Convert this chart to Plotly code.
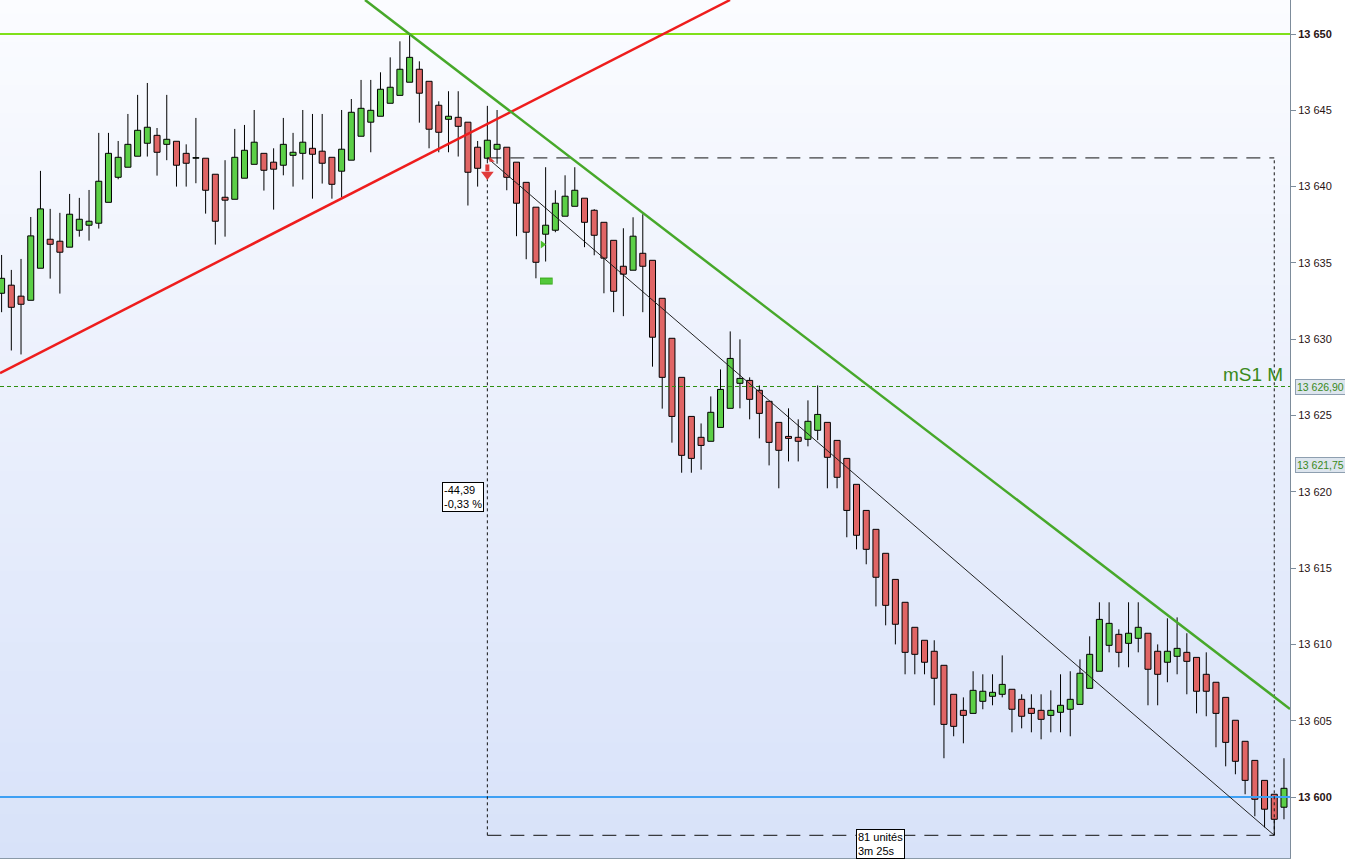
import plotly.graph_objects as go

# ---------------- data ----------------
opens = [13633.01, 13633.54, 13632.82, 13632.55, 13634.65, 13636.55, 13636.42, 13636.03, 13637.14, 13637.47,
         13637.60, 13638.97, 13640.61, 13641.27, 13641.99, 13642.84, 13643.36, 13642.77, 13642.97, 13642.18,
         13641.86, 13641.86, 13640.81, 13639.30, 13639.17, 13640.55, 13641.46, 13642.18, 13641.60, 13641.40,
         13642.05, 13642.18, 13642.51, 13642.32, 13641.92, 13641.01, 13641.73, 13643.30, 13644.22, 13644.61,
         13645.46, 13645.98, 13646.84, 13647.69, 13646.90, 13645.33, 13644.41, 13644.54, 13644.22, 13642.58,
         13641.86, 13642.45, 13642.58, 13641.60, 13640.28, 13638.65, 13636.88, 13637.14, 13638.06, 13638.71,
         13639.24, 13638.45, 13637.66, 13636.48, 13634.78, 13634.52, 13635.63, 13635.17, 13632.68, 13630.06,
         13627.50, 13624.94, 13623.57, 13623.31, 13624.22, 13625.47, 13627.11, 13627.30, 13626.65, 13625.93,
         13624.55, 13623.63, 13623.57, 13623.44, 13624.03, 13624.55, 13623.37, 13622.19, 13620.49, 13618.78,
         13617.54, 13615.97, 13614.26, 13612.76, 13611.12, 13610.27, 13609.55, 13608.63, 13606.73, 13605.68,
         13605.48, 13606.27, 13606.60, 13606.73, 13607.06, 13606.40, 13605.81, 13605.68, 13605.35, 13605.55,
         13605.75, 13606.07, 13607.12, 13608.24, 13609.94, 13610.66, 13610.07, 13610.40, 13610.73, 13609.55,
         13608.83, 13609.22, 13609.48, 13609.15, 13608.04, 13607.52, 13606.53, 13605.03, 13603.65, 13602.40,
         13601.09, 13600.18, 13599.33]
highs = [13635.52, 13634.54, 13635.26, 13638.01, 13641.03, 13638.54, 13638.28, 13639.52, 13639.26, 13639.78,
         13643.52, 13643.52, 13642.99, 13644.76, 13646.01, 13646.79, 13643.84, 13646.01, 13642.97, 13642.77,
         13644.50, 13641.86, 13640.81, 13641.73, 13643.78, 13644.04, 13645.02, 13642.18, 13642.51, 13644.50,
         13643.52, 13645.02, 13644.76, 13644.76, 13641.92, 13645.02, 13645.74, 13646.99, 13646.99, 13647.49,
         13648.47, 13649.52, 13650.00, 13648.21, 13646.90, 13645.59, 13646.25, 13646.25, 13644.22, 13642.99,
         13645.29, 13645.02, 13642.58, 13641.60, 13640.28, 13638.65, 13641.27, 13639.76, 13640.74, 13641.27,
         13639.24, 13638.52, 13637.66, 13636.48, 13637.27, 13637.99, 13638.19, 13635.17, 13632.68, 13630.06,
         13627.50, 13624.94, 13624.48, 13626.25, 13628.02, 13630.51, 13629.99, 13627.50, 13626.97, 13625.93,
         13624.55, 13625.47, 13624.75, 13625.99, 13626.97, 13624.55, 13623.37, 13622.19, 13620.49, 13618.78,
         13617.54, 13615.97, 13614.26, 13612.76, 13611.12, 13610.27, 13610.27, 13608.63, 13606.73, 13606.53,
         13608.24, 13608.04, 13608.04, 13609.28, 13607.06, 13606.73, 13606.73, 13606.73, 13606.99, 13608.04,
         13608.24, 13609.02, 13610.53, 13612.76, 13612.76, 13610.99, 13612.76, 13612.76, 13610.73, 13610.00,
         13611.71, 13611.77, 13610.73, 13609.15, 13609.48, 13607.52, 13606.53, 13605.03, 13603.65, 13602.40,
         13601.09, 13600.18, 13602.54]
lows = [13631.77, 13629.26, 13629.00, 13632.55, 13634.65, 13633.97, 13632.99, 13636.03, 13636.72, 13636.46,
        13637.25, 13638.97, 13640.48, 13641.27, 13641.99, 13641.97, 13640.72, 13641.73, 13640.00, 13640.00,
        13640.22, 13638.23, 13636.20, 13636.72, 13639.17, 13640.55, 13641.46, 13639.74, 13638.49, 13640.74,
        13640.00, 13640.46, 13639.21, 13640.20, 13639.21, 13639.30, 13641.73, 13643.30, 13642.25, 13644.61,
        13645.46, 13645.98, 13646.84, 13644.19, 13642.51, 13642.25, 13642.25, 13641.97, 13638.76, 13640.00,
        13641.70, 13641.50, 13639.76, 13636.75, 13635.24, 13633.99, 13635.09, 13637.01, 13638.06, 13638.71,
        13636.03, 13635.50, 13633.01, 13631.77, 13631.51, 13634.52, 13631.77, 13628.20, 13625.45, 13623.22,
        13621.25, 13621.25, 13621.45, 13623.31, 13624.22, 13625.47, 13625.47, 13624.75, 13623.50, 13621.73,
        13620.23, 13621.99, 13621.99, 13622.98, 13623.39, 13620.23, 13620.23, 13617.02, 13616.23, 13615.25,
        13612.49, 13611.25, 13610.00, 13608.04, 13608.04, 13608.04, 13606.01, 13602.54, 13603.98, 13603.52,
        13605.48, 13605.75, 13606.01, 13606.53, 13604.24, 13604.50, 13604.24, 13603.78, 13604.24, 13604.24,
        13603.98, 13606.07, 13607.12, 13608.24, 13609.48, 13608.50, 13608.50, 13609.48, 13606.01, 13606.01,
        13607.52, 13608.04, 13606.73, 13605.48, 13605.29, 13603.26, 13602.01, 13601.49, 13600.18, 13598.74,
        13598.01, 13597.49, 13598.54]
closes = [13633.99, 13632.09, 13632.29, 13636.77, 13638.54, 13636.22, 13635.70, 13638.19, 13637.86, 13637.73,
          13640.35, 13642.18, 13641.92, 13642.77, 13643.69, 13643.89, 13642.25, 13643.10, 13641.40, 13641.53,
          13641.86, 13639.76, 13637.73, 13639.11, 13641.92, 13642.38, 13642.91, 13641.07, 13641.14, 13642.77,
          13642.25, 13642.91, 13642.12, 13641.53, 13640.15, 13642.45, 13644.87, 13645.13, 13645.00, 13646.38,
          13646.51, 13647.69, 13648.47, 13646.12, 13643.76, 13643.56, 13644.61, 13643.95, 13640.94, 13641.20,
          13643.04, 13642.77, 13640.61, 13638.91, 13637.01, 13635.04, 13637.47, 13638.91, 13639.37, 13639.76,
          13637.66, 13636.81, 13635.31, 13633.14, 13634.26, 13636.75, 13634.78, 13630.13, 13627.50, 13624.94,
          13622.39, 13622.19, 13623.04, 13625.21, 13626.71, 13628.74, 13627.43, 13626.06, 13625.14, 13623.24,
          13622.72, 13623.50, 13623.31, 13624.62, 13625.07, 13622.26, 13620.95, 13618.78, 13617.15, 13616.23,
          13614.40, 13612.56, 13611.32, 13609.48, 13609.35, 13608.83, 13607.78, 13604.76, 13604.63, 13605.35,
          13606.99, 13606.93, 13606.86, 13607.38, 13605.75, 13605.29, 13605.48, 13605.09, 13605.68, 13606.01,
          13606.40, 13608.11, 13609.35, 13611.64, 13611.38, 13609.48, 13610.73, 13611.12, 13608.37, 13608.04,
          13609.55, 13609.74, 13608.89, 13606.93, 13606.93, 13605.48, 13603.58, 13602.34, 13601.09, 13599.85,
          13599.20, 13598.54, 13600.57]

tick_values = [13600, 13605, 13610, 13615, 13620, 13625, 13630, 13635, 13640, 13645, 13650]
tick_labels = ["<b>13 600</b>", "13 605", "13 610", "13 615", "13 620", "13 625",
               "13 630", "13 635", "13 640", "13 645", "<b>13 650</b>"]

resistance_level = 13650.0
support_level = 13600.0
ms1_level = 13626.90
ms1_name = "mS1 M"
tag_levels = [13626.90, 13621.75]
tag_texts = ["13 626,90", "13 621,75"]

red_trend_x = [-0.165, 74.98]
red_trend_y = [13627.78, 13652.23]
green_trend_x = [37.41, 132.62]
green_trend_y = [13652.23, 13605.77]

measure_start, measure_end = 50, 131
measure_top, measure_bottom = 13641.88, 13597.49
measure_delta_text = "-44,39<br>-0,33 %"
measure_span_text = "81 unités<br>3m 25s"

sell_arrow_idx, sell_arrow_price = 50, 13641.0
sell_flag_idx, sell_flag_price = 50.4, 13641.74
buy_tri_idx, buy_tri_price = 55.68, 13636.21
buy_rect_idx, buy_rect_price = 56.07, 13633.81

# ---------------- figure ----------------
idx = list(range(len(opens)))
X_RANGE = [-0.165, 132.62]
Y_RANGE = [13596.003, 13652.228]

GREEN_BODY = "#5ccf47"
RED_BODY = "#e06565"
FONT = "Liberation Sans, Arial"

fig = go.Figure()

# background gradient bands (plot area only)
n_bands = 60
top_c = (251, 252, 255)
bot_c = (216, 226, 249)
for k in range(n_bands):
    t = (k + 0.5) / n_bands
    c = tuple(round(top_c[j] + (bot_c[j] - top_c[j]) * t) for j in range(3))
    fig.add_shape(type="rect", xref="paper", yref="paper", x0=0, x1=1,
                  y0=1 - (k + 1) / n_bands, y1=1 - k / n_bands + 0.001,
                  fillcolor="rgb(%d,%d,%d)" % c, line=dict(width=0), layer="below")

# horizontal levels
fig.add_trace(go.Scatter(x=X_RANGE, y=[resistance_level] * 2, mode="lines",
                         line=dict(color="#80e01a", width=2), hoverinfo="skip", showlegend=False))
fig.add_trace(go.Scatter(x=X_RANGE, y=[support_level] * 2, mode="lines",
                         line=dict(color="#3ea0f4", width=2), hoverinfo="skip", showlegend=False))
fig.add_trace(go.Scatter(x=X_RANGE, y=[ms1_level] * 2, mode="lines",
                         line=dict(color="#2f8f10", width=1, dash="4px,3px"), hoverinfo="skip", showlegend=False))

# measuring box
mx = [measure_start, measure_end]
fig.add_trace(go.Scatter(x=mx, y=[measure_top] * 2, mode="lines",
                         line=dict(color="#111", width=1, dash="14px,9px"), hoverinfo="skip", showlegend=False))
fig.add_trace(go.Scatter(x=mx, y=[measure_bottom] * 2, mode="lines",
                         line=dict(color="#111", width=1, dash="14px,9px"), hoverinfo="skip", showlegend=False))
for xv in mx:
    fig.add_trace(go.Scatter(x=[xv, xv], y=[measure_bottom, measure_top], mode="lines",
                             line=dict(color="#111", width=1, dash="3px,3px"), hoverinfo="skip", showlegend=False))
fig.add_trace(go.Scatter(x=mx, y=[measure_top, measure_bottom], mode="lines",
                         line=dict(color="#222", width=1), hoverinfo="skip", showlegend=False))

# candle wicks (upper and lower parts, so they never cross the bodies)
wx, wy = [], []
for i in idx:
    top = max(opens[i], closes[i])
    bot = min(opens[i], closes[i])
    if highs[i] > top:
        wx += [i, i, None]
        wy += [top, highs[i], None]
    if lows[i] < bot:
        wx += [i, i, None]
        wy += [bot, lows[i], None]
fig.add_trace(go.Scatter(x=wx, y=wy, mode="lines", line=dict(color="black", width=1),
                         hoverinfo="skip", showlegend=False))

# candle bodies
for up, color in [(True, GREEN_BODY), (False, RED_BODY)]:
    sel = [i for i in idx if (closes[i] >= opens[i]) == up]
    fig.add_trace(go.Bar(
        x=sel,
        base=[min(opens[i], closes[i]) for i in sel],
        y=[max(abs(closes[i] - opens[i]), 0.04) for i in sel],
        width=0.62,
        marker=dict(color=color, line=dict(color="black", width=1)),
        hoverinfo="skip", showlegend=False))

# trend lines
fig.add_trace(go.Scatter(x=red_trend_x, y=red_trend_y, mode="lines",
                         line=dict(color="#ee1d1d", width=2.5), hoverinfo="skip", showlegend=False))
fig.add_trace(go.Scatter(x=green_trend_x, y=green_trend_y, mode="lines",
                         line=dict(color="#47a82a", width=2.5), hoverinfo="skip", showlegend=False))

# signals
fig.add_trace(go.Scatter(x=[sell_arrow_idx, sell_arrow_idx], y=[sell_arrow_price + 0.45, sell_arrow_price],
                         mode="lines", line=dict(color="#e03a3a", width=4), hoverinfo="skip", showlegend=False))
fig.add_trace(go.Scatter(x=[sell_arrow_idx], y=[sell_arrow_price - 0.2], mode="markers",
                         marker=dict(symbol="triangle-down", size=11, color="#e03a3a"),
                         hoverinfo="skip", showlegend=False))
fig.add_trace(go.Scatter(x=[sell_flag_idx], y=[sell_flag_price], mode="markers",
                         marker=dict(symbol="triangle-sw", size=6, color="#e03a3a"),
                         hoverinfo="skip", showlegend=False))
fig.add_trace(go.Scatter(x=[buy_tri_idx], y=[buy_tri_price], mode="markers",
                         marker=dict(symbol="triangle-right", size=7, color="#4cbf2a"),
                         hoverinfo="skip", showlegend=False))
fig.add_trace(go.Scatter(x=[buy_rect_idx - 0.65, buy_rect_idx + 0.65], y=[buy_rect_price] * 2, mode="lines",
                         line=dict(color="#3aa81e", width=7), hoverinfo="skip", showlegend=False))
fig.add_trace(go.Scatter(x=[buy_rect_idx - 0.6, buy_rect_idx + 0.6], y=[buy_rect_price] * 2, mode="lines",
                         line=dict(color="#52c83a", width=5), hoverinfo="skip", showlegend=False))

# annotations
annots = [
    dict(x=measure_start, y=(measure_top + measure_bottom) / 2, xref="x", yref="y",
         text=measure_delta_text, showarrow=False, xanchor="right", yanchor="middle", xshift=-3,
         align="left", bgcolor="white", bordercolor="black", borderwidth=1, borderpad=1,
         font=dict(family=FONT, size=11, color="black")),
    dict(x=(measure_start + measure_end) / 2, y=measure_bottom, xref="x", yref="y",
         text=measure_span_text, showarrow=False, xanchor="center", yanchor="top", yshift=6,
         align="left", bgcolor="white", bordercolor="black", borderwidth=1, borderpad=1,
         font=dict(family=FONT, size=11, color="black")),
    dict(x=0.996, y=ms1_level, xref="paper", yref="y", text=ms1_name, showarrow=False,
         xanchor="right", yanchor="bottom", yshift=0,
         font=dict(family=FONT, size=19, color="#3a8a1c")),
]
for lv, tx in zip(tag_levels, tag_texts):
    annots.append(dict(x=1, y=lv, xref="paper", yref="y", text=tx, showarrow=False,
                       xanchor="left", yanchor="middle", xshift=5,
                       bgcolor="#dde5ee", bordercolor="#8e9fb0", borderwidth=1, borderpad=1,
                       font=dict(family=FONT, size=10.5, color="#3a8a22")))

fig.update_layout(
    width=1345, height=864,
    margin=dict(l=0, r=55, t=0, b=6),
    paper_bgcolor="white",
    plot_bgcolor="rgba(0,0,0,0)",
    barmode="overlay",
    showlegend=False,
    annotations=annots,
    xaxis=dict(range=X_RANGE, showgrid=False, zeroline=False, showticklabels=False, ticks="",
               showline=True, linecolor="#8a99a8", linewidth=1, fixedrange=True),
    yaxis=dict(range=Y_RANGE, side="right", showgrid=False, zeroline=False,
               tickmode="array", tickvals=tick_values, ticktext=tick_labels,
               ticks="outside", ticklen=5, tickcolor="#7d8c9b",
               showline=True, linecolor="#7d8c9b", linewidth=1,
               tickfont=dict(family=FONT, size=11, color="#2a1414")),
)

fig.write_html("out.html", config={"displayModeBar": False},
               post_script="document.body.style.margin='0';")
